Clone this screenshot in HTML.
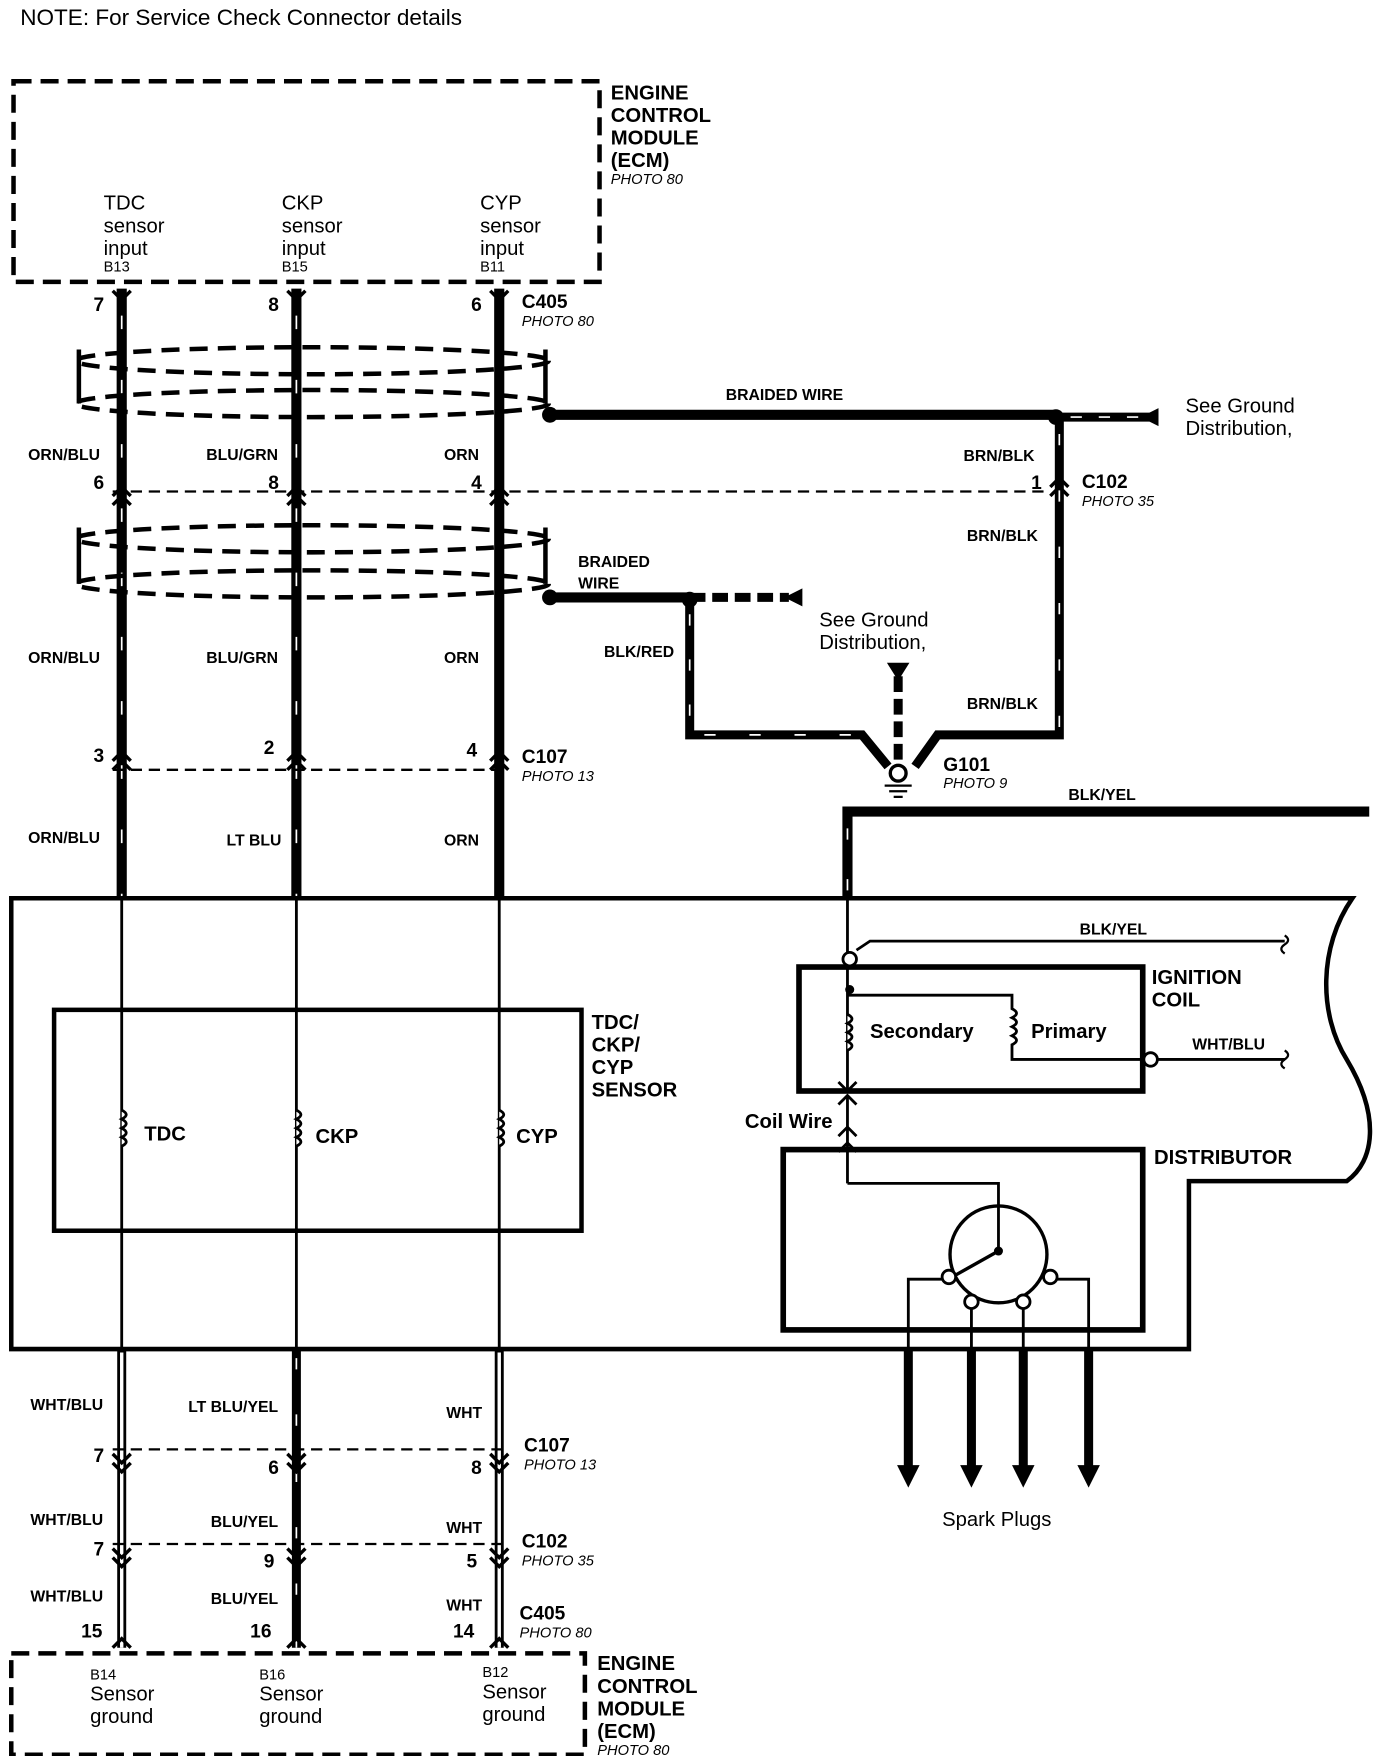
<!DOCTYPE html>
<html><head><meta charset="utf-8"><style>
html,body{margin:0;padding:0;background:#fff}
svg{display:block}
text{font-family:"Liberation Sans",sans-serif;fill:#000}
.b{font-weight:bold}
.s{font-size:14px;font-weight:bold}
.i{font-style:italic;font-size:13px}
</style></head><body>
<svg width="1376" height="1756" viewBox="0 0 1221 1558" xmlns="http://www.w3.org/2000/svg">
<g fill="none" stroke="#000">
<rect x="12" y="72" width="520" height="178" stroke-width="4" stroke-dasharray="16 8"/>
<g stroke-width="9">
<line x1="108" y1="256" x2="108" y2="797"/><line x1="263" y1="256" x2="263" y2="797"/><line x1="443" y1="256" x2="443" y2="797"/>
</g>
<g stroke="#fff" stroke-width="1.5" stroke-dasharray="12 45">
<line x1="108" y1="280" x2="108" y2="797"/><line x1="263" y1="280" x2="263" y2="797"/>
</g>
<g stroke-width="3">
<path d="M100 258 L108 266 L116 258 M255 258 L263 266 L271 258 M435 258 L443 266 L451 258"/>
<path d="M100 440 L108 432 L116 440 M255 440 L263 432 L271 440 M435 440 L443 432 L451 440"/>
<path d="M100 448 L108 440 L116 448 M255 448 L263 440 L271 448 M435 448 L443 440 L451 448"/>
<path d="M100 675 L108 667 L116 675 M255 675 L263 667 L271 675 M435 675 L443 667 L451 675"/>
<path d="M100 683 L108 675 L116 683 M255 683 L263 675 L271 683 M435 683 L443 675 L451 683"/>
</g>
<g stroke-width="4" stroke-dasharray="16 9">
<ellipse cx="277" cy="320" rx="210" ry="12"/><ellipse cx="277" cy="358" rx="210" ry="12"/>
<ellipse cx="277" cy="478" rx="210" ry="12"/><ellipse cx="277" cy="518" rx="210" ry="12"/>
</g>
<g stroke-width="4">
<path d="M70 310 V358 M484 310 V358 M70 468 V518 M484 468 V518"/>
</g>
<line x1="100" y1="436" x2="930" y2="436" stroke-width="2" stroke-dasharray="10 6"/>
<line x1="100" y1="683" x2="450" y2="683" stroke-width="2" stroke-dasharray="10 6"/>
<line x1="488" y1="368" x2="937" y2="368" stroke-width="9"/>
<line x1="937" y1="370" x2="1020" y2="370" stroke-width="8"/>
<line x1="950" y1="370" x2="1020" y2="370" stroke="#fff" stroke-width="1.5" stroke-dasharray="10 15"/>
<path d="M940 372 V652 H832 L812 680" stroke-width="8"/>
<path d="M940 385 V650" stroke="#fff" stroke-width="1.5" stroke-dasharray="10 40"/>
<path d="M932 440 L940 432 L948 440 M932 432 L940 424 L948 432" stroke-width="3"/>
<line x1="488" y1="530" x2="612" y2="530" stroke-width="9"/>
<line x1="612" y1="530" x2="700" y2="530" stroke-width="8" stroke-dasharray="14 6"/>
<path d="M612 532 V652 H765 L788 680" stroke-width="8"/>
<path d="M612 545 V652 H765" stroke="#fff" stroke-width="1.5" stroke-dasharray="10 30"/>
<line x1="797" y1="600" x2="797" y2="675" stroke-width="8" stroke-dasharray="14 6"/>
<path d="M752 797 V720 H1215" stroke-width="9"/>
<path d="M752 790 V726 H1210" stroke="#fff" stroke-width="1.5" stroke-dasharray="10 35"/>
<path d="M10 797 H1200 C1170 840 1170 900 1195 940 C1225 990 1220 1030 1195 1048 H1055 V1197 H10 Z" stroke-width="4"/>
<g stroke-width="2.5">
<line x1="108" y1="797" x2="108" y2="1197"/><line x1="263" y1="797" x2="263" y2="1197"/><line x1="443" y1="797" x2="443" y2="1197"/>
</g>
<rect x="48" y="896" width="468" height="196" stroke-width="4"/>
<g stroke-width="2.5" fill="#fff">
<path d="M108 985 q8 4 0 8 q8 4 0 8 q8 4 0 8 q8 4 0 8"/>
<path d="M263 985 q8 4 0 8 q8 4 0 8 q8 4 0 8 q8 4 0 8"/>
<path d="M443 985 q8 4 0 8 q8 4 0 8 q8 4 0 8 q8 4 0 8"/>
</g>
<line x1="752" y1="797" x2="752" y2="970" stroke-width="2.5"/>
<path d="M760 843 L772 835 H1140" stroke-width="2.5"/>
<rect x="709" y="858" width="305" height="110" stroke-width="5"/>
<path d="M752 883 H898 V895 q8 4 0 8 q8 4 0 8 q8 4 0 8 q8 4 0 8 V940 H1014" stroke-width="2.5"/>
<path d="M752 900 q8 4 0 8 q8 4 0 8 q8 4 0 8 q8 4 0 8" stroke-width="2.5" fill="#fff"/>
<line x1="1028" y1="940" x2="1140" y2="940" stroke-width="2.5"/>
<path d="M1140 830 q6 4 0 8 q-6 4 0 8 M1140 932 q6 4 0 8 q-6 4 0 8" stroke-width="2"/>
<path d="M744 960 L752 968 L760 960 M744 980 L752 972 L760 980 M744 1008 L752 1000 L760 1008 M744 1022 L752 1014 L760 1022" stroke-width="2.5"/>
<line x1="752" y1="972" x2="752" y2="1050" stroke-width="2.5"/>
<rect x="695" y="1020" width="319" height="160" stroke-width="5"/>
<path d="M752 1050 H886 V1110" stroke-width="2.5"/>
<circle cx="886" cy="1113" r="43" stroke-width="3"/>
<line x1="886" y1="1110" x2="845" y2="1133" stroke-width="3"/>
<path d="M836 1135 H806 V1197 M938 1135 H966 V1197 M862 1160 V1197 M908 1160 V1197" stroke-width="2.5"/>
<g stroke-width="8"><line x1="806" y1="1197" x2="806" y2="1305"/><line x1="862" y1="1197" x2="862" y2="1305"/><line x1="908" y1="1197" x2="908" y2="1305"/><line x1="966" y1="1197" x2="966" y2="1305"/></g>
<g stroke-width="8">
<line x1="108" y1="1197" x2="108" y2="1462"/><line x1="263" y1="1197" x2="263" y2="1462"/><line x1="443" y1="1197" x2="443" y2="1462"/>
</g>
<g stroke="#fff" stroke-width="3">
<line x1="108" y1="1200" x2="108" y2="1462"/><line x1="443" y1="1200" x2="443" y2="1462"/>
</g>
<line x1="263" y1="1205" x2="263" y2="1462" stroke="#fff" stroke-width="1.5" stroke-dasharray="10 40"/>
<g stroke-width="2" stroke-dasharray="10 6">
<line x1="100" y1="1286" x2="450" y2="1286"/><line x1="100" y1="1370" x2="450" y2="1370"/>
</g>
<g stroke-width="3">
<path d="M100 1290 L108 1298 L116 1290 M255 1290 L263 1298 L271 1290 M435 1290 L443 1298 L451 1290"/>
<path d="M100 1298 L108 1306 L116 1298 M255 1298 L263 1306 L271 1298 M435 1298 L443 1306 L451 1298"/>
<path d="M100 1374 L108 1382 L116 1374 M255 1374 L263 1382 L271 1374 M435 1374 L443 1382 L451 1374"/>
<path d="M100 1382 L108 1390 L116 1382 M255 1382 L263 1390 L271 1382 M435 1382 L443 1390 L451 1382"/>
<path d="M100 1462 L108 1454 L116 1462 M255 1462 L263 1454 L271 1462 M435 1462 L443 1454 L451 1462"/>
</g>
<rect x="10" y="1467" width="509" height="90" stroke-width="4" stroke-dasharray="16 8"/>
</g>
<circle cx="488" cy="368" r="7"/><circle cx="937" cy="370" r="7"/><circle cx="488" cy="530" r="7"/><circle cx="612" cy="532" r="7"/>
<polygon points="1028,362 1028,378 1012,370"/>
<polygon points="712,522 712,538 696,530"/>
<polygon points="787,588 807,588 797,604"/>
<circle cx="797" cy="686" r="7" fill="#fff" stroke="#000" stroke-width="3"/>
<path d="M785 697 H809 M789 702 H805 M793 707 H801" stroke="#000" stroke-width="2"/>
<circle cx="754" cy="851" r="6" fill="#fff" stroke="#000" stroke-width="2.5"/>
<circle cx="754" cy="878" r="4"/>
<circle cx="1021" cy="940" r="6" fill="#fff" stroke="#000" stroke-width="2.5"/>
<circle cx="886" cy="1110" r="4"/>
<g fill="#fff" stroke="#000" stroke-width="2.5">
<circle cx="842" cy="1133" r="6"/><circle cx="932" cy="1133" r="6"/><circle cx="862" cy="1155" r="6"/><circle cx="908" cy="1155" r="6"/>
</g>
<polygon points="796,1300 816,1300 806,1320"/><polygon points="852,1300 872,1300 862,1320"/><polygon points="898,1300 918,1300 908,1320"/><polygon points="956,1300 976,1300 966,1320"/>
<text x="18" y="22" font-size="20">NOTE: For Service Check Connector details</text>
<g class="b" font-size="18"><text x="542" y="88">ENGINE</text><text x="542" y="108">CONTROL</text><text x="542" y="128">MODULE</text><text x="542" y="148">(ECM)</text></g>
<text x="542" y="163" class="i">PHOTO 80</text>
<g font-size="18">
<text x="92" y="186">TDC</text><text x="92" y="206">sensor</text><text x="92" y="226">input</text>
<text x="250" y="186">CKP</text><text x="250" y="206">sensor</text><text x="250" y="226">input</text>
<text x="426" y="186">CYP</text><text x="426" y="206">sensor</text><text x="426" y="226">input</text>
</g>
<g font-size="13"><text x="92" y="241">B13</text><text x="250" y="241">B15</text><text x="426" y="241">B11</text></g>
<g class="b" font-size="17">
<text x="83" y="276">7</text><text x="238" y="276">8</text><text x="418" y="276">6</text>
<text x="83" y="434">6</text><text x="238" y="434">8</text><text x="418" y="434">4</text>
<text x="915" y="434">1</text>
<text x="83" y="676">3</text><text x="234" y="669">2</text><text x="414" y="671">4</text>
</g>
<text x="463" y="273" class="b" font-size="17">C405</text><text x="463" y="289" class="i">PHOTO 80</text>
<g class="s">
<text x="25" y="408">ORN/BLU</text><text x="183" y="408">BLU/GRN</text><text x="394" y="408">ORN</text>
<text x="25" y="588">ORN/BLU</text><text x="183" y="588">BLU/GRN</text><text x="394" y="588">ORN</text>
<text x="25" y="748">ORN/BLU</text><text x="201" y="750">LT BLU</text><text x="394" y="750">ORN</text>
<text x="644" y="355">BRAIDED WIRE</text>
<text x="855" y="409">BRN/BLK</text><text x="858" y="480">BRN/BLK</text><text x="858" y="629">BRN/BLK</text>
<text x="513" y="503">BRAIDED</text><text x="513" y="522">WIRE</text>
<text x="536" y="583">BLK/RED</text>
<text x="948" y="710">BLK/YEL</text><text x="958" y="829">BLK/YEL</text><text x="1058" y="931">WHT/BLU</text>
</g>
<text x="1052" y="366" font-size="18">See Ground</text><text x="1052" y="386" font-size="18">Distribution,</text>
<text x="960" y="433" class="b" font-size="17">C102</text><text x="960" y="449" class="i">PHOTO 35</text>
<text x="727" y="556" font-size="18">See Ground</text><text x="727" y="576" font-size="18">Distribution,</text>
<text x="837" y="684" class="b" font-size="17">G101</text><text x="837" y="699" class="i">PHOTO 9</text>
<text x="463" y="677" class="b" font-size="17">C107</text><text x="463" y="693" class="i">PHOTO 13</text>
<g class="b" font-size="18">
<text x="525" y="913">TDC/</text><text x="525" y="933">CKP/</text><text x="525" y="953">CYP</text><text x="525" y="973">SENSOR</text>
<text x="128" y="1012">TDC</text><text x="280" y="1014">CKP</text><text x="458" y="1014">CYP</text>
<text x="1022" y="873">IGNITION</text><text x="1022" y="893">COIL</text>
<text x="772" y="921">Secondary</text><text x="915" y="921">Primary</text>
<text x="661" y="1001">Coil Wire</text>
<text x="1024" y="1033">DISTRIBUTOR</text>
</g>
<text x="836" y="1354" font-size="18">Spark Plugs</text>
<g class="s">
<text x="27" y="1251">WHT/BLU</text><text x="167" y="1253">LT BLU/YEL</text><text x="396" y="1258">WHT</text>
<text x="27" y="1353">WHT/BLU</text><text x="187" y="1355">BLU/YEL</text><text x="396" y="1360">WHT</text>
<text x="27" y="1421">WHT/BLU</text><text x="187" y="1423">BLU/YEL</text><text x="396" y="1429">WHT</text>
</g>
<g class="b" font-size="17">
<text x="83" y="1297">7</text><text x="238" y="1308">6</text><text x="418" y="1308">8</text>
<text x="83" y="1380">7</text><text x="234" y="1391">9</text><text x="414" y="1391">5</text>
<text x="72" y="1453">15</text><text x="222" y="1453">16</text><text x="402" y="1453">14</text>
</g>
<text x="465" y="1288" class="b" font-size="17">C107</text><text x="465" y="1304" class="i">PHOTO 13</text>
<text x="463" y="1373" class="b" font-size="17">C102</text><text x="463" y="1389" class="i">PHOTO 35</text>
<text x="461" y="1437" class="b" font-size="17">C405</text><text x="461" y="1453" class="i">PHOTO 80</text>
<g font-size="13"><text x="80" y="1490">B14</text><text x="230" y="1490">B16</text><text x="428" y="1488">B12</text></g>
<g font-size="18">
<text x="80" y="1509">Sensor</text><text x="80" y="1529">ground</text>
<text x="230" y="1509">Sensor</text><text x="230" y="1529">ground</text>
<text x="428" y="1507">Sensor</text><text x="428" y="1527">ground</text>
</g>
<g class="b" font-size="18"><text x="530" y="1482">ENGINE</text><text x="530" y="1502">CONTROL</text><text x="530" y="1522">MODULE</text><text x="530" y="1542">(ECM)</text></g>
<text x="530" y="1557" class="i">PHOTO 80</text>
</svg>
</body></html>
